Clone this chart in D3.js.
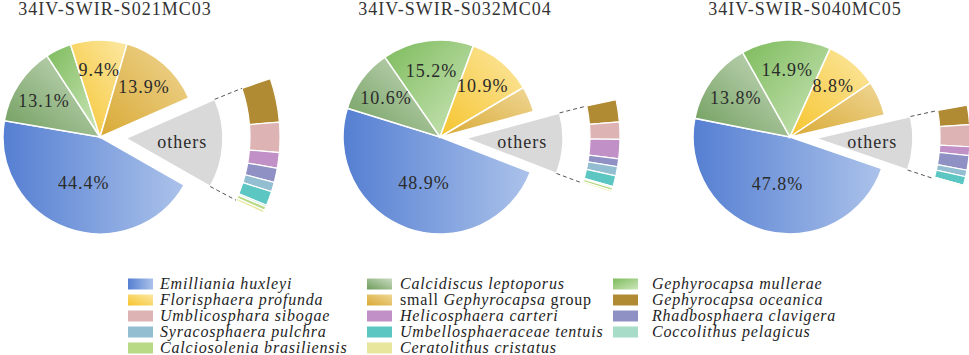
<!DOCTYPE html>
<html>
<head>
<meta charset="utf-8">
<script src="https://cdn.jsdelivr.net/npm/d3@7"></script>
<style>
    html, body { margin: 0; padding: 0; background: #fff; }
    svg { display: block; }
    text { font-family: 'Liberation Serif', 'Times New Roman', serif; }
    .title { font-size: 18px; fill: #333; letter-spacing: 1px; }
    .pct { font-size: 18px; fill: #2b2b2b; letter-spacing: 1px; }
    .legend-text { font-size: 16px; fill: #1e1e1e; letter-spacing: 0.8px; }
</style>
</head>
<body>
<div id="chart"></div>
<script>
// ===== Data =====
const samples = ['34IV-SWIR-S021MC03', '34IV-SWIR-S032MC04', '34IV-SWIR-S040MC05'];

// main pie species (clockwise after "others")
const mainSpecies = ['Emilliania huxleyi', 'Calcidiscus leptoporus', 'Gephyrocapsa mullerae',
    'Florisphaera profunda', 'small Gephyrocapsa group'];
const mainValues = [
    [44.4, 13.1, 4.3, 9.4, 13.9],
    [48.9, 10.6, 15.2, 10.9, 4.3],
    [47.8, 13.8, 14.9, 8.8, 5.8]
];

// "others" breakdown (top to bottom in the ring)
const subSpecies = ['Gephyrocapsa oceanica', 'Umblicosphara sibogae', 'Helicosphaera carteri',
    'Rhadbosphaera clavigera', 'Syracosphaera pulchra', 'Umbellosphaeraceae tentuis',
    'Coccolithus pelagicus', 'Calciosolenia brasiliensis', 'Ceratolithus cristatus'];
const subValues = [
    [4.8, 3.3, 1.7, 1.55, 1.05, 1.55, 0.2, 0.4, 0.3],
    [2.4, 1.9, 2.1, 0.87, 1.0, 1.2, 0.15, 0.3, 0.2],
    [2.1, 2.4, 0.95, 1.6, 0.72, 0.95, 0.0, 0.05, 0.15]
];

// legend order (3 columns, row-major)
const legendOrder = ['Emilliania huxleyi', 'Calcidiscus leptoporus', 'Gephyrocapsa mullerae',
    'Florisphaera profunda', 'small Gephyrocapsa group', 'Gephyrocapsa oceanica',
    'Umblicosphara sibogae', 'Helicosphaera carteri', 'Rhadbosphaera clavigera',
    'Syracosphaera pulchra', 'Umbellosphaeraceae tentuis', 'Coccolithus pelagicus',
    'Calciosolenia brasiliensis', 'Ceratolithus cristatus'];

// ===== Constants & Configuration =====
const SERIF = "'Liberation Serif', 'Times New Roman', serif";
const CONFIG = {
    width: 969,
    height: 355,
    pie: {
        centers: [100, 440, 790],
        cy: 137,
        r: 97,
        explode: 26,
        ringInner: 150,
        ringOuter: 180,
        ringSpan: 0.82,
        othersCenter: 93 * Math.PI / 180
    },
    colors: {
        main: {
            'Emilliania huxleyi': ['#557fd2', '#abc2ea', [0, 0.5, 1, 0.5]],
            'Calcidiscus leptoporus': ['#6f9d5c', '#cadcc1', [0, 1, 1, 0]],
            'Gephyrocapsa mullerae': ['#7dbb5c', '#cde6bb', [0, 0, 1, 1]],
            'Florisphaera profunda': ['#f5c42e', '#fce8a4', [0, 1, 1, 0]],
            'small Gephyrocapsa group': ['#d8a935', '#f0d795', [0, 1, 1, 0]]
        },
        sub: {
            'Gephyrocapsa oceanica': '#b18b34',
            'Umblicosphara sibogae': '#ddb3b3',
            'Helicosphaera carteri': '#c090c6',
            'Rhadbosphaera clavigera': '#8f91c4',
            'Syracosphaera pulchra': '#93bdd1',
            'Umbellosphaeraceae tentuis': '#5cc6c2',
            'Coccolithus pelagicus': '#a6dcc8',
            'Calciosolenia brasiliensis': '#b8d985',
            'Ceratolithus cristatus': '#e8e69c'
        },
        others: '#d9d9d9'
    },
    legend: {
        swatchX: [128, 367, 613],
        textX: [160, 400, 652],
        y0: 284,
        rowH: 16,
        sw: 25,
        sh: 11
    }
};

const svg = d3.select('#chart').append('svg')
    .attr('width', CONFIG.width)
    .attr('height', CONFIG.height);
const defs = svg.append('defs');

// ===== Gradients =====
function gradId(name) {
    return 'g-' + name.replace(/\s+/g, '-');
}

Object.entries(CONFIG.colors.main).forEach(([name, c]) => {
    const grad = defs.append('linearGradient')
        .attr('id', gradId(name))
        .attr('x1', c[2][0]).attr('y1', c[2][1])
        .attr('x2', c[2][2]).attr('y2', c[2][3]);
    grad.append('stop').attr('offset', '0%').attr('stop-color', c[0]);
    grad.append('stop').attr('offset', '100%').attr('stop-color', c[1]);
});

function fillFor(name) {
    if (CONFIG.colors.main[name]) return `url(#${gradId(name)})`;
    return CONFIG.colors.sub[name] || CONFIG.colors.others;
}

const polar = (a, r) => [r * Math.sin(a), -r * Math.cos(a)];

// ===== Pie-of-pie panel =====
function drawPanel(k) {
    const P = CONFIG.pie;
    const cx = P.centers[k];
    const R = P.r;
    const othersTotal = d3.sum(subValues[k]);

    const slices = [{ name: 'others', value: othersTotal }]
        .concat(mainSpecies.map((s, i) => ({ name: s, value: mainValues[k][i] })));
    const total = d3.sum(slices, d => d.value);
    const othersAngle = othersTotal / total * 2 * Math.PI;
    const start = P.othersCenter - othersAngle / 2;

    const pie = d3.pie().sort(null).value(d => d.value)
        .startAngle(start).endAngle(start + 2 * Math.PI);
    const arcs = pie(slices);
    const arc = d3.arc().innerRadius(0).outerRadius(R);

    const g = svg.append('g').attr('transform', `translate(${cx},${P.cy})`);

    // title
    svg.append('text')
        .attr('class', 'title')
        .attr('font-family', SERIF)
        .attr('x', cx + 15)
        .attr('y', 15)
        .attr('text-anchor', 'middle')
        .text(samples[k]);

    // main slices
    arcs.forEach(d => {
        const mid = (d.startAngle + d.endAngle) / 2;
        const off = d.data.name === 'others' ? polar(mid, P.explode) : [0, 0];
        g.append('path')
            .attr('d', arc(d))
            .attr('transform', `translate(${off[0]},${off[1]})`)
            .attr('fill', fillFor(d.data.name))
            .attr('stroke', '#fff')
            .attr('stroke-width', 1.5);
    });

    // labels
    arcs.forEach(d => {
        const mid = (d.startAngle + d.endAngle) / 2;
        if (d.data.name === 'others') {
            const p = polar(mid, P.explode + R * 0.58);
            g.append('text').attr('class', 'pct')
                .attr('font-family', SERIF)
                .attr('x', p[0]).attr('y', p[1])
                .attr('text-anchor', 'middle').attr('dy', '0.35em')
                .attr('letter-spacing', '0.3px')
                .text('others');
            return;
        }
        if (d.data.value < 7) return;
        const r = d.data.value > 40 ? R * 0.5 : R * 0.69;
        const p = polar(mid, r);
        g.append('text').attr('class', 'pct')
            .attr('font-family', SERIF)
            .attr('x', p[0]).attr('y', p[1])
            .attr('text-anchor', 'middle').attr('dy', '0.35em')
            .text(d.data.value.toFixed(1) + '%');
    });

    // secondary ring
    const oMid = P.othersCenter;
    const span = othersAngle * P.ringSpan;
    const r0 = oMid - span / 2, r1 = oMid + span / 2;
    const subPie = d3.pie().sort(null).startAngle(r0).endAngle(r1);
    const ringArc = d3.arc().innerRadius(P.ringInner).outerRadius(P.ringOuter);
    subPie(subValues[k]).forEach((d, i) => {
        g.append('path')
            .attr('d', ringArc(d))
            .attr('fill', fillFor(subSpecies[i]))
            .attr('stroke', '#fff')
            .attr('stroke-width', 1.2);
    });

    // dashed connectors
    const off = polar(oMid, P.explode);
    [[start, r0], [start + othersAngle, r1]].forEach(([a, b]) => {
        const p1 = polar(a, R), p2 = polar(b, P.ringInner);
        g.append('line')
            .attr('x1', p1[0] + off[0]).attr('y1', p1[1] + off[1])
            .attr('x2', p2[0]).attr('y2', p2[1])
            .attr('stroke', '#555')
            .attr('stroke-width', 1)
            .attr('stroke-dasharray', '4,3');
    });
}

samples.forEach((s, k) => drawPanel(k));

// ===== Legend =====
const L = CONFIG.legend;
const legend = svg.append('g');
legendOrder.forEach((name, i) => {
    const col = i % 3, row = Math.floor(i / 3);
    const y = L.y0 + row * L.rowH;
    legend.append('rect')
        .attr('x', L.swatchX[col])
        .attr('y', y - L.sh / 2)
        .attr('width', L.sw)
        .attr('height', L.sh)
        .attr('fill', fillFor(name));
    const t = legend.append('text')
        .attr('class', 'legend-text')
        .attr('font-family', SERIF)
        .attr('x', L.textX[col])
        .attr('y', y + 5);
    name.split(' ').forEach((w, j, arr) => {
        const upright = (w === 'small' || w === 'group');
        t.append('tspan')
            .attr('font-style', upright ? 'normal' : 'italic')
            .text(w + (j < arr.length - 1 ? ' ' : ''));
    });
});
</script>
</body>
</html>
